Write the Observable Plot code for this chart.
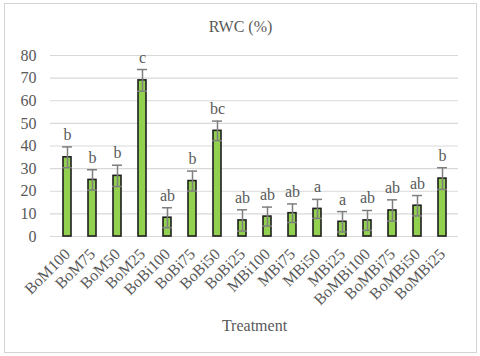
<!DOCTYPE html>
<html>
<head>
<meta charset="utf-8">
<script src="https://cdn.jsdelivr.net/npm/d3@7"></script>
<script src="https://cdn.jsdelivr.net/npm/@observablehq/plot@0.6"></script>
<style>
  body { margin: 0; background: #fff; }
  #wrap { position: relative; width: 480px; height: 356px; }
  #border { position: absolute; left: 4px; top: 3px; width: 471px; height: 348px; border: 1px solid #d4d4d4; pointer-events: none; }
  #chart { position: absolute; left: 0; top: 0; }
  #chart svg, #chart svg text, #chart svg g { font-family: "Liberation Serif", "Times New Roman", serif !important; }
</style>
</head>
<body>
<div id="wrap"><div id="chart"></div><div id="border"></div></div>
<script>
const treatments = ["BoM100","BoM75","BoM50","BoM25","BoBi100","BoBi75","BoBi50","BoBi25","MBi100","MBi75","MBi50","MBi25","BoMBi100","BoMBi75","BoMBi50","BoMBi25"];
const rwc = [35, 25, 26.8, 69, 8.3, 24.5, 46.7, 7.1, 8.8, 10.3, 12.2, 6.5, 7.1, 11.5, 13.6, 25.6];
const errs = [4.6, 4.5, 4.7, 4.8, 4.4, 4.4, 4.3, 4.7, 4.2, 4.1, 4.2, 4.5, 4.4, 4.7, 4.5, 4.8];
const sig = ["b","b","b","c","ab","b","bc","ab","ab","ab","a","a","ab","ab","ab","b"];
const yTicks = [0,10,20,30,40,50,60,70,80];

const data = treatments.map((t, i) => ({t, v: rwc[i], e: errs[i], s: sig[i]}));
const gray = "#595959";
const ff = "Liberation Serif";

const chart = Plot.plot({
  width: 480,
  height: 356,
  marginLeft: 50,
  marginRight: 22,
  marginTop: 55,
  marginBottom: 120,
  style: {fontSize: "16px", fontFamily: ff, color: gray, background: "transparent"},
  x: {domain: treatments, paddingInner: 0.68, paddingOuter: 0.3, label: null},
  y: {domain: [0, 80], label: null},
  marks: [
    Plot.gridY(yTicks, {stroke: "#d9d9d9", strokeOpacity: 1, strokeWidth: 1.2}),
    Plot.axisY(yTicks, {tickSize: 0, tickPadding: 14, fontSize: 16, fontFamily: ff, fill: gray, label: null}),
    Plot.axisX({tickSize: 0, tickPadding: 15, tickRotate: -45, fontSize: 16, fontFamily: ff, fill: gray, label: null}),
    Plot.barY(data, {x: "t", y: "v", fill: "#92D050", stroke: "#1f1f1f", strokeWidth: 1.6}),
    Plot.ruleX(data, {x: "t", y1: d => d.v - d.e, y2: d => d.v + d.e, stroke: "#7f7f7f", strokeWidth: 1.5}),
    Plot.tickY(data, {x: "t", y: d => d.v + d.e, stroke: "#7f7f7f", strokeWidth: 1.5, insetLeft: 9, insetRight: 9}),
    Plot.tickY(data, {x: "t", y: d => d.v - d.e, stroke: "#7f7f7f", strokeWidth: 1.5, insetLeft: 9, insetRight: 9}),
    Plot.text(data, {x: "t", y: d => d.v + d.e, text: "s", dy: -7, lineAnchor: "bottom", fontSize: 16, fontFamily: ff, fill: gray}),
    Plot.text(["RWC (%)"], {frameAnchor: "top", dx: -14, dy: -29, lineAnchor: "middle", fontSize: 16, fontFamily: ff, fill: gray}),
    Plot.text(["Treatment"], {frameAnchor: "bottom", dy: 89, lineAnchor: "middle", fontSize: 16, fontFamily: ff, fill: gray})
  ]
});
document.getElementById("chart").appendChild(chart);
</script>
</body>
</html>
